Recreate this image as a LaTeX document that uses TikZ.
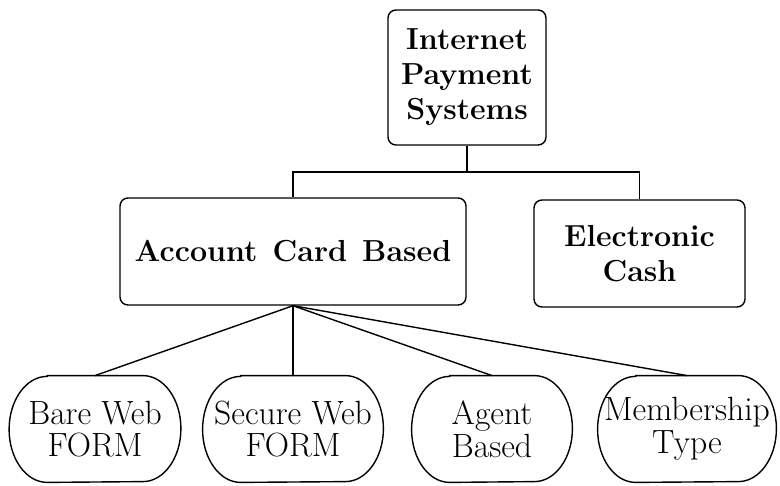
\documentclass[tikz,border=0pt]{standalone}
\usetikzlibrary{calc}
\newcommand\leafout[1]{%
  \draw[conn] ($(#1.north west)+(38,0)$) -- ($(#1.north east)+(-38,0)$)
    arc[start angle=90,end angle=-90,x radius=19pt,y radius=26.5pt]
    -- ($(#1.south west)+(38,0)$)
    arc[start angle=270,end angle=90,x radius=19pt,y radius=26.5pt] -- cycle;}
\begin{document}
\begin{tikzpicture}[x=0.5pt,y=-0.5pt,
  box/.style={draw,rounded corners=4pt,line width=0.7pt,align=center,inner sep=0pt,
    font=\fontsize{15.2}{17.5}\selectfont\bfseries},
  leaf/.style={align=center,inner sep=0pt,minimum height=53pt,
    font=\fontsize{16.8}{16.3}\selectfont},
  conn/.style={line width=0.7pt}]
\useasboundingbox (0,0) rectangle (780,486);
\node[box,minimum width=79pt,minimum height=67.5pt] (top) at (467,77.5) {Internet\\Payment\\Systems};
\node[box,minimum width=173pt,minimum height=53.5pt] (acct) at (293,251.5) {Account\hspace{0.5em}Card\hspace{0.5em}Based};
\node[box,minimum width=105.5pt,minimum height=53.5pt] (cash) at (639.5,253.5) {Electronic\\Cash};
\coordinate (j) at (467,172);
\draw[conn] (top.south) -- (j);
\draw[conn] (acct.north) |- (j) -| (cash.north);
\node[leaf,minimum width=85.5pt] (bare) at (95,429) {Bare Web\\FORM};
\node[leaf,minimum width=90pt] (secure) at (293,429) {Secure Web\\FORM};
\node[leaf,minimum width=80pt] (agent) at (492,429) {Agent\\Based};
\node[leaf,minimum width=89pt] (member) at (687,429) {Membership\\Type};
\leafout{bare}
\leafout{secure}
\leafout{agent}
\leafout{member}
\foreach \n in {bare,secure,agent,member}
  \draw[conn] (acct.south) -- (\n.north);
\end{tikzpicture}
\end{document}
